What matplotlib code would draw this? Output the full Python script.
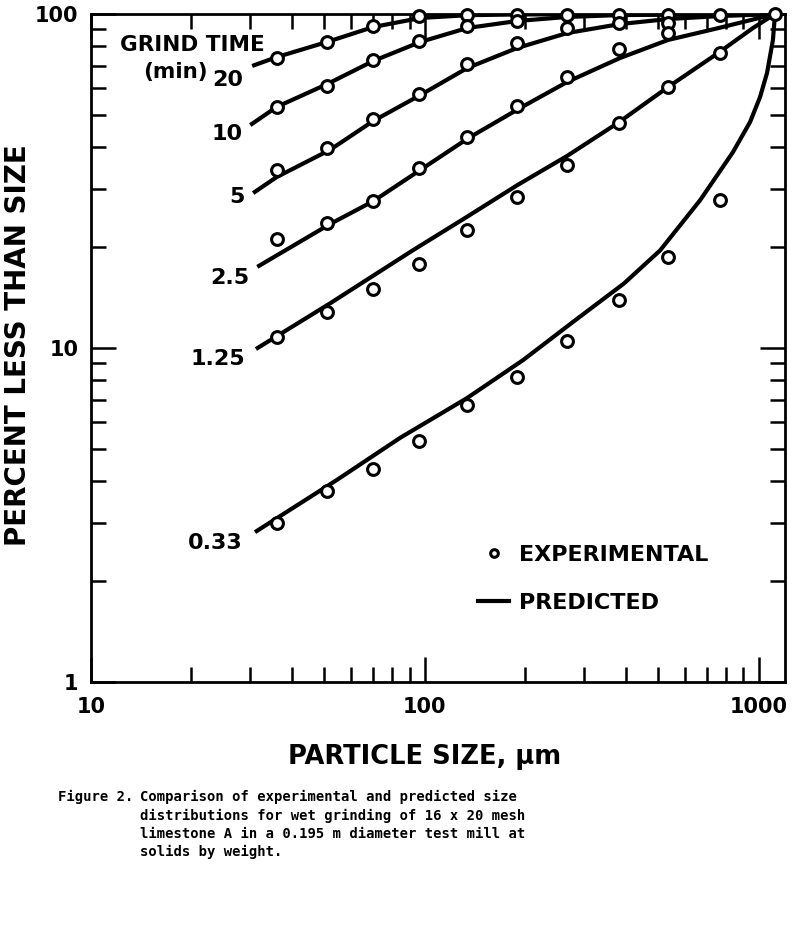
import numpy as np
import matplotlib
matplotlib.use("Agg")
import matplotlib.pyplot as plt
from matplotlib.ticker import LogLocator, NullFormatter, FixedLocator
from matplotlib.lines import Line2D

plt.rcParams['font.family'] = ['DejaVu Sans']
plt.rcParams['font.weight'] = 'bold'

nan = np.nan

# experimental points (sieve sizes, um) and percent passing
size_um = [36, 51, 70, 96, 134, 189, 267, 383, 535, 766]
feed_size = [1120]
feed_pct = [100]
exp_20 = [73.8, 82.4, 92.1, 98.6, 99.5, 99.6, 99.5, 99.5, 99.5, 99.3]
exp_10 = [52.7, 60.9, 72.8, 83.0, 92.0, 95.3, nan, nan, nan, nan]
exp_5 = [34.1, 39.7, 48.5, 57.6, 70.8, 81.9, 90.8, 93.9, 93.9, nan]
exp_2_5 = [21.2, 23.7, 27.5, 34.6, 42.8, 53.1, 64.7, 78.6, 87.7, nan]
exp_1_25 = [10.8, 12.8, 15.0, 17.8, 22.6, 28.3, 35.3, 47.2, 60.4, 76.4]
exp_0_33 = [2.99, 3.73, 4.34, 5.27, 6.75, 8.19, 10.5, 13.9, 18.7, 27.7]

# predicted curves
pred_20_x = [30.4, 36, 51, 70, 97, 134, 190, 1120]
pred_20_y = [69.9, 74.3, 82.5, 91.4, 97.3, 99.2, 99.7, 100]
pred_10_x = [30, 36, 51, 70, 97, 134, 189, 267, 384, 1120]
pred_10_y = [46.5, 52.7, 61.7, 72.3, 82.5, 90.8, 95.3, 98.0, 99.3, 100]
pred_5_x = [30.6, 36, 52, 70, 97, 134, 189, 267, 384, 535, 766, 1120]
pred_5_y = [29.1, 32.5, 39.2, 47.8, 57.2, 68.9, 79.1, 87.7, 93.3, 96.6, 98.6, 100]
pred_2_5_x = [31.5, 52, 70, 99, 135, 193, 267, 384, 535, 766, 1120]
pred_2_5_y = [17.5, 23.5, 27.5, 34.6, 42.5, 52.3, 62.6, 73.8, 83.6, 91.0, 100]
pred_1_25_x = [31.2, 52, 92, 132, 190, 267, 379, 535, 756, 962, 1120]
pred_1_25_y = [9.93, 13.6, 19.6, 24.5, 30.8, 37.6, 47.2, 60.4, 76.4, 90.8, 100]
pred_0_33_x = [31, 54.6, 84.3, 133.8, 197, 278, 395, 507, 668, 838, 943, 1010, 1060, 1104, 1120]
pred_0_33_y = [2.81, 4.03, 5.38, 7.08, 9.2, 11.97, 15.6, 19.6, 27.7, 38.6, 47.5, 56.4, 66.6, 83.6, 100]

curve_labels = ['20', '10', '5', '2.5', '1.25', '0.33']
label_x = [28.5, 28.5, 28.9, 29.9, 28.9, 28.4]
label_y = [63.5, 43.7, 28.3, 16.2, 9.28, 2.61]

x_ticks = [10, 100, 1000]
x_tick_labels = ['10', '100', '1000']
y_ticks = [1, 10, 100]
y_tick_labels = ['1', '10', '100']

fig = plt.figure(figsize=(7.96, 9.35), dpi=100)
ax = fig.add_axes([0.1143, 0.2706, 0.8719, 0.7144])

preds = [(pred_20_x, pred_20_y), (pred_10_x, pred_10_y), (pred_5_x, pred_5_y),
         (pred_2_5_x, pred_2_5_y), (pred_1_25_x, pred_1_25_y), (pred_0_33_x, pred_0_33_y)]
for px, py in preds:
    ax.plot(px, py, color='k', lw=3, solid_capstyle='butt', solid_joinstyle='round', zorder=2)

mk = dict(marker='o', ls='none', ms=8.5, mfc='white', mec='k', mew=2.2, zorder=3, clip_on=False)
for ey in [exp_20, exp_10, exp_5, exp_2_5, exp_1_25, exp_0_33]:
    ax.plot(size_um, ey, **mk)
ax.plot(feed_size, feed_pct, **mk)

ax.set_xscale('log')
ax.set_yscale('log')
ax.set_xlim(10, 1200)
ax.set_ylim(1, 100)

ax.xaxis.set_major_locator(FixedLocator(x_ticks))
ax.set_xticklabels(x_tick_labels)
ax.yaxis.set_major_locator(FixedLocator(y_ticks))
ax.set_yticklabels(y_tick_labels)
ax.xaxis.set_minor_locator(LogLocator(base=10, subs=range(2, 10)))
ax.yaxis.set_minor_locator(LogLocator(base=10, subs=range(2, 10)))
ax.xaxis.set_minor_formatter(NullFormatter())
ax.yaxis.set_minor_formatter(NullFormatter())

ax.tick_params(which='both', direction='in', top=True, right=True, width=1.8, labelsize=15)
ax.tick_params(which='major', length=18)
ax.tick_params(which='minor', length=11)
ax.tick_params(axis='x', pad=11)
ax.tick_params(axis='y', pad=9)
for s in ax.spines.values():
    s.set_linewidth(2)

for lab, lx, ly in zip(curve_labels, label_x, label_y):
    ax.text(lx, ly, lab, ha='right', va='center', fontsize=16)
ax.text(20.07, 80.8, 'GRIND TIME', ha='center', va='center', fontsize=15.5)
ax.text(17.85, 67.1, '(min)', ha='center', va='center', fontsize=15.5)

ax.set_xlabel('PARTICLE SIZE, µm', fontsize=18.5, fontweight='bold', va='center')
ax.xaxis.set_label_coords(0.481, -0.1123)
ax.set_ylabel('PERCENT LESS THAN SIZE', fontsize=20, fontweight='bold', va='center')
ax.yaxis.set_label_coords(-0.105, 0.504)

handles = [Line2D([], [], marker='o', ls='none', ms=5.5, mfc='white', mec='k', mew=2.2),
           Line2D([], [], color='k', lw=3)]
ax.legend(handles, ['EXPERIMENTAL', 'PREDICTED'], loc='upper left',
          bbox_to_anchor=(478 / 796, 1 - 545 / 935), bbox_transform=fig.transFigure,
          frameon=False, borderpad=0, borderaxespad=0, fontsize=16,
          handlelength=1.4, handletextpad=0.45, labelspacing=1.25)

cap_font = dict(family='DejaVu Sans Mono', fontsize=10, fontweight='bold', va='top', ha='left')
fig.text(58 / 796, 1 - 790 / 935, 'Figure 2.', **cap_font)
fig.text(140 / 796, 1 - 790 / 935,
         'Comparison of experimental and predicted size\n'
         'distributions for wet grinding of 16 x 20 mesh\n'
         'limestone A in a 0.195 m diameter test mill at\n'
         'solids by weight.', linespacing=1.38, **cap_font)

fig.savefig('out.png', dpi=100)
